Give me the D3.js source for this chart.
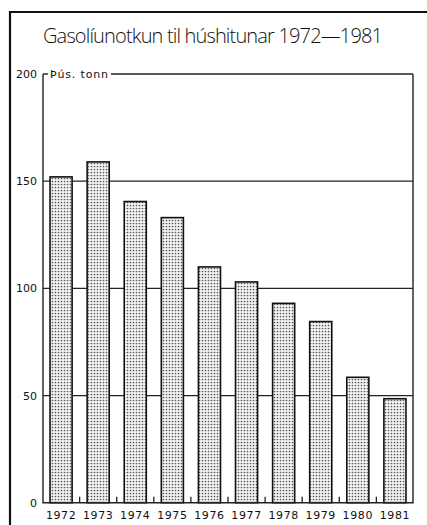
<!DOCTYPE html>
<html>
<head>
<meta charset="utf-8">
<script src="https://cdn.jsdelivr.net/npm/d3@7"></script>
<style>
  html, body { margin: 0; padding: 0; background: #fff; }
  svg { display: block; }
  text { font-family: "DejaVu Sans", "Noto Sans", sans-serif; fill: #111; }
</style>
</head>
<body>
<script>
// ---- data ----
const years = ["1972","1973","1974","1975","1976","1977","1978","1979","1980","1981"];
const values = [152, 159, 140.5, 133, 110, 103, 93, 84.5, 58.5, 48.5];
const yTicks = [0, 50, 100, 150, 200];
const gridValues = [50, 100, 150];
const titleText = "Gasolíunotkun til húshitunar 1972—1981";
const unitText = "Þús. tonn";

(function () {
const W = 427, H = 525;
const svg = d3.select("body").append("svg").attr("width", W).attr("height", H);

// stipple pattern
const defs = svg.append("defs");
const pat = defs.append("pattern").attr("id", "dots")
  .attr("patternUnits", "userSpaceOnUse").attr("width", 3).attr("height", 3);
pat.append("rect").attr("width", 3).attr("height", 3).attr("fill", "#f4f4f4");
pat.append("circle").attr("cx", 1.5).attr("cy", 1.5).attr("r", 0.85).attr("fill", "#555");

// outer frame (top and left)
svg.append("path").attr("d", `M10,${H} L10,12 L${W},12`)
  .attr("fill", "none").attr("stroke", "#111").attr("stroke-width", 2.2);

// title
svg.append("text").attr("x", 43).attr("y", 43)
  .style("font-family", '"Open Sans", "Lato", sans-serif').style("font-weight", 300)
  .attr("font-size", 20).attr("textLength", 340).attr("lengthAdjust", "spacing")
  .text(titleText);

const pLeft = 43, pRight = 413, pTop = 74, pBottom = 502.7;
const x = d3.scaleBand().domain(years).range([pLeft, pRight]).paddingInner(0.405).paddingOuter(0.19);
const y = d3.scaleLinear().domain([0, 200]).range([pBottom, pTop]);

const ink = "#222";

// gridlines (behind bars)
svg.append("g").selectAll("line").data(gridValues).join("line")
  .attr("x1", pLeft).attr("x2", pRight)
  .attr("y1", d => y(d)).attr("y2", d => y(d))
  .attr("stroke", ink).attr("stroke-width", 1.3);

// bars
svg.append("g").selectAll("rect").data(values).join("rect")
  .attr("x", (d, i) => x(years[i]))
  .attr("y", d => y(d))
  .attr("width", x.bandwidth())
  .attr("height", d => y(0) - y(d))
  .attr("fill", "url(#dots)")
  .attr("stroke", "#111").attr("stroke-width", 1.6);

// plot frame: left, bottom, right
svg.append("path")
  .attr("d", `M${pLeft},${pTop} L${pLeft},${pBottom} L${pRight},${pBottom} L${pRight},${pTop}`)
  .attr("fill", "none").attr("stroke", ink).attr("stroke-width", 1.4);

// top line with gap for unit label
svg.append("line").attr("x1", pLeft).attr("x2", 48).attr("y1", pTop).attr("y2", pTop)
  .attr("stroke", ink).attr("stroke-width", 1.4);
svg.append("line").attr("x1", 111).attr("x2", pRight).attr("y1", pTop).attr("y2", pTop)
  .attr("stroke", ink).attr("stroke-width", 1.4);
svg.append("text").attr("x", 50).attr("y", pTop + 4)
  .attr("font-size", 11).attr("textLength", 58).attr("lengthAdjust", "spacing")
  .text(unitText);

// y axis labels
const yAxis = d3.axisLeft(y).tickValues(yTicks).tickSize(0).tickPadding(6);
const ga = svg.append("g").attr("transform", `translate(${pLeft},0)`).call(yAxis);
ga.select(".domain").remove();
ga.selectAll("text").attr("font-size", 11).attr("fill", "#111")
  .style("font-family", '"DejaVu Sans", sans-serif');

// bottom ticks between bars
const step = x.step();
const between = years.slice(1);
svg.append("g").selectAll("line").data(between).join("line")
  .attr("x1", d => x(d) - step * x.paddingInner() / 2)
  .attr("x2", d => x(d) - step * x.paddingInner() / 2)
  .attr("y1", pBottom).attr("y2", pBottom - 6)
  .attr("stroke", ink).attr("stroke-width", 1.3);

// x labels
const xAxis = d3.axisBottom(x).tickSize(0).tickPadding(9);
const gx = svg.append("g").attr("transform", `translate(0,${pBottom})`).call(xAxis);
gx.select(".domain").remove();
gx.selectAll("text").attr("font-size", 11).attr("fill", "#111")
  .style("font-family", '"DejaVu Sans", sans-serif').style("letter-spacing", "0.6px");
})();
</script>
</body>
</html>
